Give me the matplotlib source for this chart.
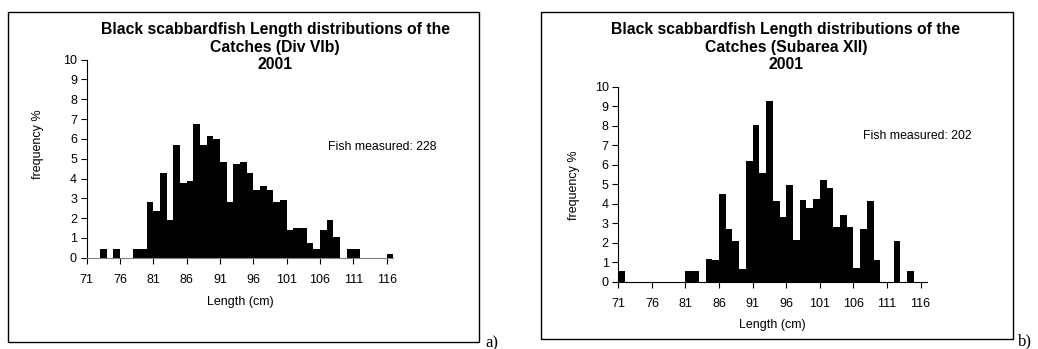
import numpy as np
import matplotlib
matplotlib.use('Agg')
import matplotlib.pyplot as plt
from matplotlib.patches import Rectangle

plt.rcParams['font.family'] = ['Liberation Sans', 'DejaVu Sans']

# length classes (cm)
lengths = np.arange(71, 117)
xticks = list(range(71, 117, 5))

# Div VIb, fish measured 228
freq_vib = [0, 0, 0.44, 0, 0.44, 0, 0, 0.44, 0.44, 2.81,
            2.36, 4.28, 1.90, 5.69, 3.75, 3.89, 6.75, 5.69, 6.14, 5.99,
            4.85, 2.81, 4.73, 4.85, 4.28, 3.42, 3.62, 3.42, 2.81, 2.91,
            1.40, 1.52, 1.52, 0.72, 0.42, 1.40, 1.90, 1.06, 0, 0.44,
            0.44, 0, 0, 0, 0, 0.19]

# Subarea XII, fish measured 202
freq_xii = [0.55, 0, 0, 0, 0, 0, 0, 0, 0, 0,
            0.55, 0.55, 0, 1.16, 1.11, 4.50, 2.68, 2.10, 0.65, 6.19,
            8.03, 5.56, 9.28, 4.14, 3.33, 4.96, 2.14, 4.19, 3.79, 4.24,
            5.21, 4.82, 2.82, 3.42, 2.82, 0.72, 2.68, 4.14, 1.11, 0,
            0, 2.09, 0, 0.55, 0, 0]

titles = ['Black scabbardfish Length distributions of the\nCatches (Div VIb)\n2001',
          'Black scabbardfish Length distributions of the\nCatches (Subarea XII)\n2001']
notes = ['Fish measured: 228', 'Fish measured: 202']

W, H = 1038, 349
fig = plt.figure(figsize=(W / 100, H / 100), dpi=100)


def px(x0, y0, x1, y1):
    # pixel box (top-left origin) -> figure fraction rect
    return [x0 / W, 1 - y1 / H, (x1 - x0) / W, (y1 - y0) / H]


ax1 = fig.add_axes(px(86.7, 59.7, 393.4, 257.7))
ax2 = fig.add_axes(px(618.3, 86.7, 927.3, 281.7))

setup = [
    (ax1, freq_vib, '#808080', (107.2, 5.59), -0.139, 0.574, -0.195, 0.265),
    (ax2, freq_xii, 'black', (107.5, 7.47), -0.124, 0.496, -0.19, 0.757),
]

for i, (ax, freq, xcol, note_xy, ylx, yly, xly, tx) in enumerate(setup):
    ax.bar(lengths, freq, width=1.0, align='edge', color='black', linewidth=0)
    ax.set_xlim(71, 117)
    ax.set_ylim(0, 10)
    ax.set_xticks(xticks)
    ax.set_yticks(range(0, 11))
    ax.tick_params(axis='both', labelsize=9, direction='out', length=4, width=0.8)
    ax.tick_params(axis='x', pad=8)
    ax.tick_params(axis='y', pad=3)
    for s in ['top', 'right']:
        ax.spines[s].set_visible(False)
    ax.spines['left'].set_linewidth(0.8)
    ax.spines['bottom'].set_linewidth(0.8)
    ax.spines['bottom'].set_color(xcol)
    ax.set_ylabel('frequency %', fontsize=9)
    ax.yaxis.set_label_coords(ylx, yly)
    ax.set_xlabel('Length (cm)', fontsize=9)
    ax.xaxis.set_label_coords(0.5, xly)
    ax.text(note_xy[0], note_xy[1], notes[i], fontsize=8.8, va='center', clip_on=False)
    fig.text(tx, 0.865, titles[i], ha='center', va='center', fontsize=11.3,
             fontweight='bold', linespacing=1.2)

# chart frames
fig.patches.append(Rectangle((8.3 / W, 1 - 341.7 / H), (479.3 - 8.3) / W, (341.7 - 11.7) / H,
                             transform=fig.transFigure, fill=False, edgecolor='black', linewidth=1))
fig.patches.append(Rectangle((540.7 / W, 1 - 339.3 / H), (1012.7 - 540.7) / W, (339.3 - 11.7) / H,
                             transform=fig.transFigure, fill=False, edgecolor='black', linewidth=1))

fig.text(485 / W, 1 - 347 / H, 'a)', family='Liberation Serif', fontsize=12, va='baseline')
fig.text(1018 / W, 1 - 345 / H, 'b)', family='Liberation Serif', fontsize=12, va='baseline')

fig.savefig('out.png', dpi=100)
